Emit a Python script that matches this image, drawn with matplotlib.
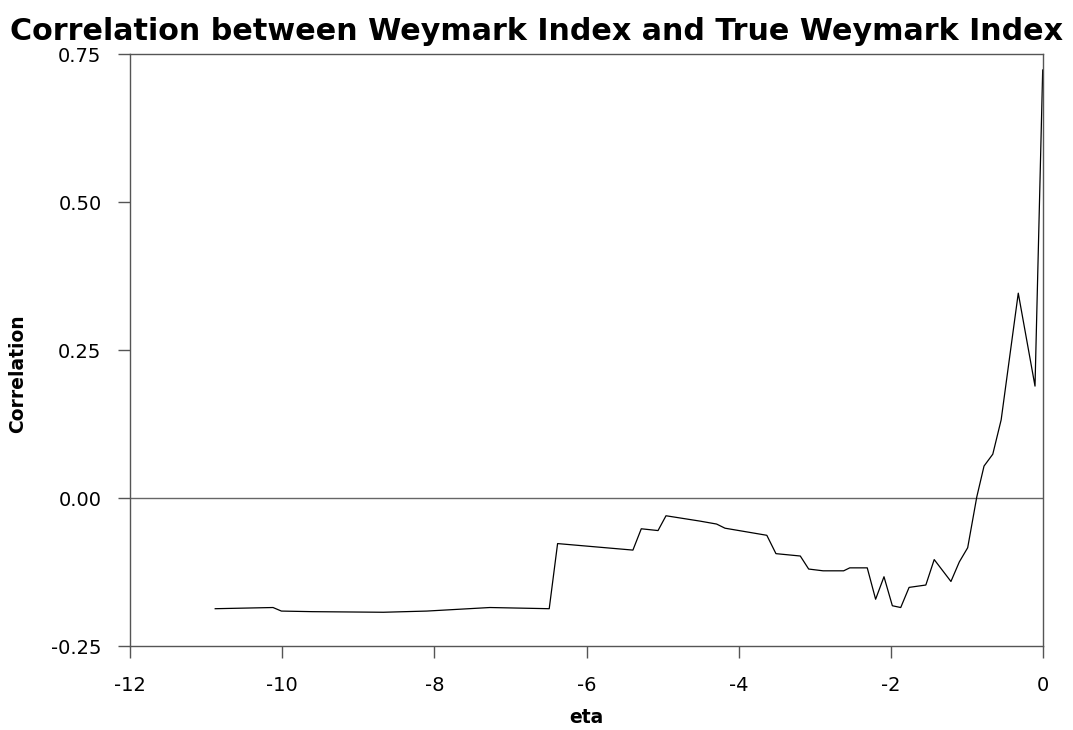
import matplotlib
matplotlib.use("Agg")
import matplotlib.pyplot as plt

# the reference text is wide, DejaVu Sans is closer to it than Arial-like fonts
plt.rcParams['font.family'] = ['DejaVu Sans']

# values
eta = [-10.88, -10.12, -10.01, -9.60, -8.67, -8.10, -7.27, -6.49,
       -6.38, -5.39, -5.28, -5.06, -4.955, -4.51, -4.29, -4.18,
       -3.63, -3.51, -3.19, -3.08, -2.89, -2.62, -2.54, -2.31,
       -2.20, -2.09, -1.98, -1.87, -1.76, -1.54, -1.43, -1.21,
       -1.10, -0.99, -0.87, -0.775, -0.66, -0.55, -0.325, -0.105, -0.004]
corr = [-0.187, -0.185, -0.191, -0.192, -0.193, -0.191, -0.185, -0.187,
        -0.077, -0.088, -0.052, -0.055, -0.030, -0.039, -0.044, -0.051,
        -0.063, -0.094, -0.098, -0.120, -0.123, -0.123, -0.118, -0.118,
        -0.171, -0.133, -0.182, -0.185, -0.151, -0.147, -0.104, -0.141,
        -0.108, -0.084, 0.002, 0.054, 0.074, 0.132, 0.346, 0.189, 0.723]

xticks = [-12, -10, -8, -6, -4, -2, 0]
yticks = [-0.25, 0.00, 0.25, 0.50, 0.75]

fig = plt.figure(figsize=(10.73, 7.30), dpi=100)
ax = fig.add_axes([130 / 1073, 1 - 646 / 730, 913 / 1073, 592 / 730])

ax.axhline(0, color="#666666", lw=1.0)
ax.plot(eta, corr, color="black", lw=0.9)

ax.set_xlim(-12, 0)
ax.set_ylim(-0.25, 0.75)
ax.set_xticks(xticks)
ax.set_xticklabels([str(t) for t in xticks])
ax.set_yticks(yticks)
ax.set_yticklabels(["%.2f" % t for t in yticks])

for s in ax.spines.values():
    s.set_color("#555555")
    s.set_linewidth(1.0)
ax.tick_params(axis="both", direction="out", length=8.5, width=1.0,
               color="#555555", labelsize=14)
ax.tick_params(axis="y", pad=12)
ax.tick_params(axis="x", pad=13)

ax.set_xlabel("eta", fontsize=13.5, fontweight="bold")
ax.set_ylabel("Correlation", fontsize=13.5, fontweight="bold")
ax.xaxis.set_label_coords(0.5, -0.105)
ax.yaxis.set_label_coords(-0.113, 0.46)

fig.text(0.5, 1 - 32 / 730, "Correlation between Weymark Index and True Weymark Index",
         ha="center", va="center", fontsize=21.7, fontweight="bold")

fig.savefig("out.png", dpi=100)
